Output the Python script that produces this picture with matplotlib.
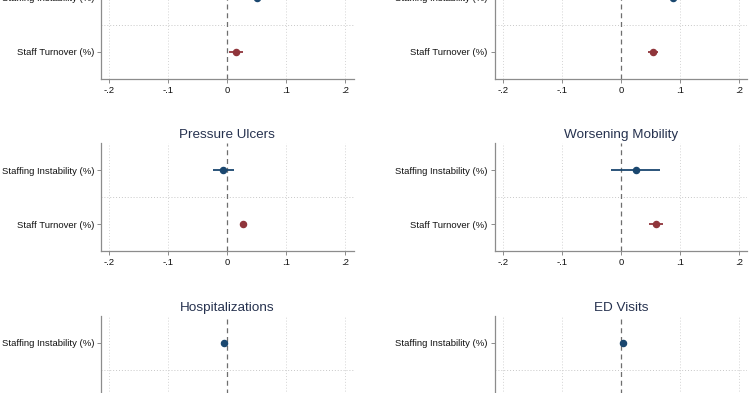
import matplotlib
matplotlib.use("Agg")
import matplotlib.pyplot as plt

plt.rcParams['font.family'] = ['Liberation Sans', 'DejaVu Sans']

# ---- data (coefficient estimates and 95% CI) ----
categories = ["Staffing Instability (%)", "Staff Turnover (%)"]
panel_titles = ["", "", "Pressure Ulcers", "Worsening Mobility", "Hospitalizations", "ED Visits"]

instab_est = [0.050, 0.089, -0.007, 0.025, -0.005, 0.004]
instab_lo = [0.046, 0.085, -0.025, -0.017, -0.007, 0.002]
instab_hi = [0.054, 0.093, 0.012, 0.067, -0.003, 0.006]

turn_est = [0.015, 0.054, 0.026, 0.060, None, None]
turn_lo = [0.003, 0.046, 0.023, 0.048, None, None]
turn_hi = [0.027, 0.062, 0.029, 0.072, None, None]

xticks = [-0.2, -0.1, 0.0, 0.1, 0.2]
xticklabels = ["-.2", "-.1", "0", ".1", ".2"]

navy = "#1a476f"
maroon = "#90353b"
title_col = "#26324f"
spine_col = "#8c8c8c"

W, H = 750, 393
fig = plt.figure(figsize=(W / 100, H / 100), dpi=100)

col_x0 = [101, 494.7]
ax_w = 252.5
ax_h = 108
row_bottom = [78.7, 251, 424]

for i in range(6):
    r, c = divmod(i, 2)
    left = col_x0[c] / W
    bottom = 1 - row_bottom[r] / H
    ax = fig.add_axes([left, bottom, ax_w / W, ax_h / H])
    ax.set_xlim(-0.214, 0.214)
    ax.set_ylim(2.5, 0.5)

    # grid
    for xv in xticks:
        if xv == 0:
            ax.axvline(0, color="#6e6e6e", lw=0.9, ls=(0, (4, 3)), zorder=1)
        else:
            ax.axvline(xv, color="#d4d4d4", lw=0.7, ls=(0, (1, 2)), zorder=0)
    ax.axhline(1.5, color="#c8c8c8", lw=0.7, ls=(0, (1, 2)), zorder=0)

    # series
    ax.hlines(1, instab_lo[i], instab_hi[i], color=navy, lw=1.3, zorder=3)
    ax.plot([instab_est[i]], [1], "o", color=navy, ms=4.4, zorder=4)
    if turn_est[i] is not None:
        ax.hlines(2, turn_lo[i], turn_hi[i], color=maroon, lw=1.3, zorder=3)
        ax.plot([turn_est[i]], [2], "o", color=maroon, ms=4.4, zorder=4)

    ax.set_yticks([1, 2])
    if r == 2:
        # lower part of the bottom row lies below the visible picture
        ax.set_yticklabels([categories[0], ""])
    else:
        ax.set_yticklabels(categories)
    ax.set_xticks(xticks)
    if r == 2:
        ax.set_xticklabels([""] * len(xticks))
    else:
        ax.set_xticklabels(xticklabels)
    ax.tick_params(axis="both", labelsize=6.8, colors=spine_col, labelcolor="#111111",
                   length=3, width=0.7, pad=2)

    for s in ["top", "right"]:
        ax.spines[s].set_visible(False)
    for s in ["left", "bottom"]:
        ax.spines[s].set_color(spine_col)
        ax.spines[s].set_linewidth(0.9)
    ax.spines["left"].set_bounds(2.5, 0.5)

    if panel_titles[i]:
        ax.set_title(panel_titles[i], fontsize=9.7, color=title_col, pad=3.5)

fig.savefig("out.png", dpi=100, facecolor="white")
